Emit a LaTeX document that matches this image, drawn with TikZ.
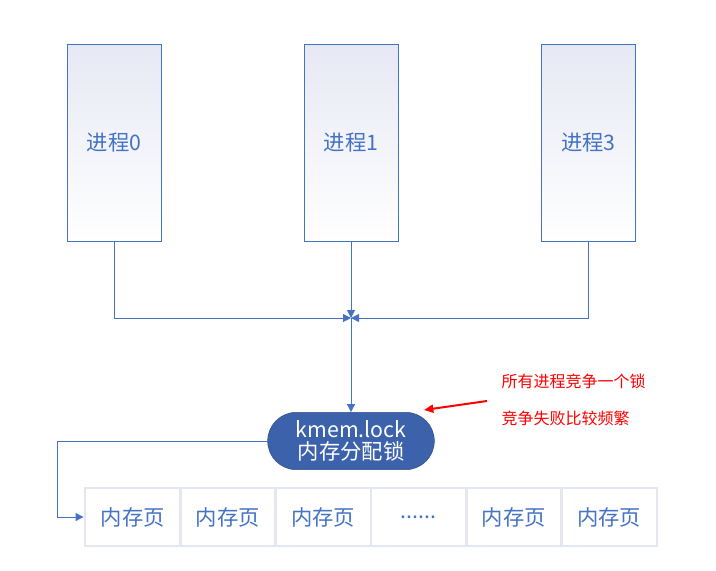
\documentclass[tikz,border=0pt]{standalone}
\usepackage{fontspec}
\setmainfont{Noto Sans CJK SC}
\usetikzlibrary{arrows.meta,shapes.misc}
\definecolor{procblue}{HTML}{4472C4}
\definecolor{lockblue}{HTML}{3D62AC}
\definecolor{pageedge}{HTML}{E4E7F2}
\definecolor{lavender}{HTML}{E6E9F4}
\tikzset{
	proc/.style={draw=procblue,top color=lavender,bottom color=white,minimum width=70.5pt,minimum height=148pt,text=procblue,font=\fontsize{16}{19}\selectfont},
	lockbox/.style={rounded rectangle,fill=lockblue,draw=lockblue!80!black,minimum width=127pt,minimum height=43pt,text=white,align=center,font=\fontsize{16}{17}\selectfont,inner sep=1pt},
	pagecell/.style={draw=pageedge,line width=2.2pt,minimum width=71.5pt,minimum height=43.5pt,text=procblue,font=\fontsize{16}{18}\selectfont},
	conn/.style={draw=procblue,line width=0.75pt,-{Triangle[length=6pt,width=6pt]}},
	note/.style={text=red,anchor=west,font=\fontsize{12}{14}\selectfont}
}
\begin{document}
\begin{tikzpicture}[x=0.75pt,y=-0.75pt]
	\useasboundingbox (0,0) rectangle (716,570);
	\node [proc] (p0) at (114,143) {进程0};
	\node [proc] (p1) at (351,143) {进程1};
	\node [proc] (p3) at (588.5,143) {进程3};
	\coordinate (j) at (351,318);
	
	\node [lockbox] (lock) at (351,441) {kmem.lock\\内存分配锁};
	
	\foreach \i/\t in {1/内存页,2/内存页,3/内存页,4/{......},5/内存页,6/内存页}
		\node [pagecell] (c\i) at ({85+95.33*(\i-0.5)},517) {\t};
	
	\draw [conn] (p0.south) |- (j);
	\draw [conn] (p3.south) |- (j);
	\draw [conn] (p1.south) -- (j);
	\draw [conn] (j) -- (lock.north);
	\coordinate (bend) at (57,441);
	\draw [conn] (lock.west) -- (bend) |- (c1.west);
	
	\node [note] (n1) at (497,381) {所有进程竞争一个锁};
	\node [note] (n2) at (497,418) {竞争失败比较频繁};
	\coordinate (tip) at (424,410);
	\draw [red,line width=1.5pt,-{Triangle[length=7pt,width=6pt]}] (487,401) -- (tip);
\end{tikzpicture}
\end{document}
